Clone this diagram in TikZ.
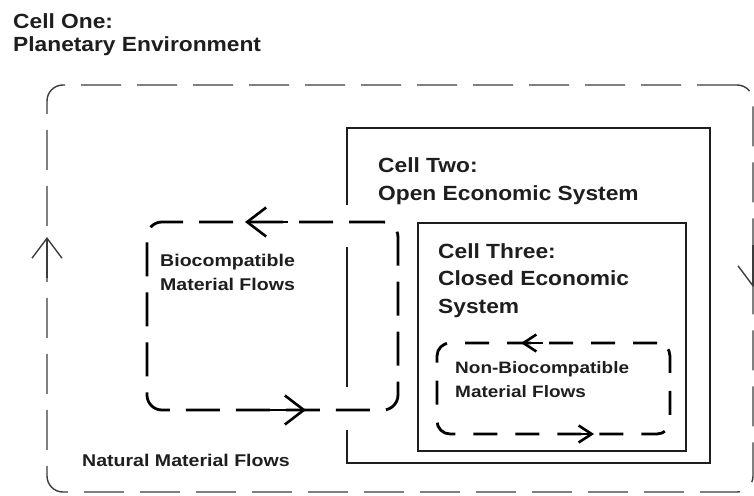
\documentclass[tikz,border=0pt]{standalone}
\usepackage{fontspec}
\usetikzlibrary{arrows.meta,calc}
\newfontfamily\titlefont{Liberation Sans}[FakeStretch=1.11]
\newfontfamily\flowfont{Liberation Sans}[FakeStretch=1.15]
\definecolor{ink}{HTML}{1E1E1E}
\definecolor{framegrey}{HTML}{3C3C3C}

\tikzset{
  boxbase/.style={inner sep=0pt, outer sep=0pt},
  outerloop/.style={boxbase, draw=framegrey, line width=1.4pt, rounded corners=16pt, dash pattern=on 40pt off 16pt},
  cellbox/.style={boxbase, draw=ink, line width=2.6pt},
  bioloop/.style={boxbase, draw=black, line width=2.8pt, rounded corners=15pt, dash pattern=on 34pt off 16pt},
  nonbioloop/.style={boxbase, draw=black, line width=2.8pt, rounded corners=13pt, dash pattern=on 24pt off 18pt},
  outerflow/.style={draw=framegrey, line width=1.4pt, -{Straight Barb[length=20pt,width=30pt]}},
  bioflow/.style={draw=black, line width=2.6pt, -{Straight Barb[length=19pt,width=29pt]}},
  nonbioflow/.style={draw=black, line width=2.6pt, -{Straight Barb[length=13pt,width=17pt]}},
  % multi-line labels are placed by the baseline of their last line
  celltitle/.style={inner sep=0pt, anchor=base west, align=left, text=ink,
    font=\titlefont\bfseries\fontsize{20.5pt}{27.5pt}\selectfont},
  flowlabel/.style={inner sep=0pt, anchor=base west, align=left, text=ink,
    font=\flowfont\bfseries\fontsize{17pt}{24.5pt}\selectfont},
}

\begin{document}
\begin{tikzpicture}[x=1pt,y=-1pt]
\useasboundingbox (0,0) rectangle (754,495);

% cells
\node[outerloop, minimum width=706pt, minimum height=407pt] (cell1) at (400,288.5) {};
\node[cellbox, minimum width=363pt, minimum height=335pt] (cell2) at (528.5,295.5) {};
\node[cellbox, minimum width=268pt, minimum height=228pt] (cell3) at (552,337) {};

% material flow loops
\node[boxbase, minimum width=251pt, minimum height=188pt] (bio) at (272.5,316) {};
\node[nonbioloop, minimum width=233pt, minimum height=91pt] (nonbio) at (553.5,388.5) {};

% the biocompatible loop passes through the wall of cell two
\coordinate (crossTop) at ($(cell2.west |- bio.north)$);
\coordinate (crossBot) at ($(cell2.west |- bio.south)$);
\fill[white] ($(crossTop)+(-4,-17)$) rectangle ($(crossTop)+(4,25)$);
\fill[white] ($(crossBot)+(-4,-23)$) rectangle ($(crossBot)+(4,20)$);
\node[bioloop, minimum width=251pt, minimum height=188pt] at (bio) {};

% flow directions
\coordinate (upTail) at (47,278);  \coordinate (upTip) at (47,237);
\coordinate (dnTail) at (753,245); \coordinate (dnTip) at (753,287);
\draw[outerflow] (upTail) -- (upTip);
\draw[outerflow] (dnTail) -- (dnTip);

\coordinate (bioTopTail) at (288,222); \coordinate (bioTopTip) at (245,222);
\coordinate (bioBotTail) at (268,410); \coordinate (bioBotTip) at (306,410);
\draw[bioflow] (bioTopTail) -- (bioTopTip);
\draw[bioflow] (bioBotTail) -- (bioBotTip);

\coordinate (nbTopTail) at (543,343); \coordinate (nbTopTip) at (521,343);
\coordinate (nbBotTail) at (563,434); \coordinate (nbBotTip) at (594,434);
\draw[nonbioflow] (nbTopTail) -- (nbTopTip);
\draw[nonbioflow] (nbBotTail) -- (nbBotTip);

% labels
\node[celltitle, font=\titlefont\bfseries\fontsize{20.5pt}{23pt}\selectfont] (t1) at (13,52) {Cell One:\\Planetary Environment};
\node[celltitle] (t2) at (378,200) {Cell Two:\\Open Economic System};
\node[celltitle] (t3) at (438,313) {Cell Three:\\Closed Economic\\System};
\node[flowlabel] (t4) at (160,290.5) {Biocompatible\\Material Flows};
\node[flowlabel, font=\flowfont\bfseries\fontsize{16.5pt}{24pt}\selectfont] (t5) at (455,397) {Non-Biocompatible\\Material Flows};
\node[flowlabel] (t6) at (82,466) {Natural Material Flows};
\end{tikzpicture}
\end{document}
